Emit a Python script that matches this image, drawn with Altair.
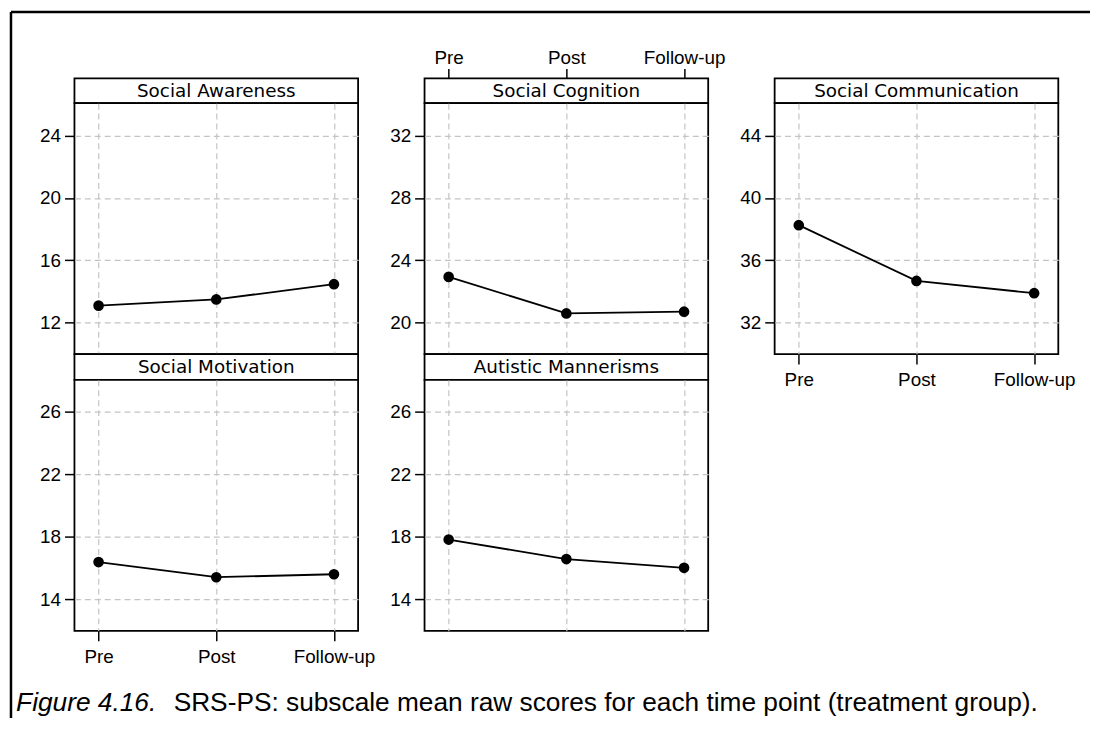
import altair as alt
import pandas as pd

# ---------------- data ----------------
time_points = ["Pre", "Post", "Follow-up"]
panel_titles = ["Social Awareness", "Social Cognition", "Social Communication",
                "Social Motivation", "Autistic Mannerisms"]
social_awareness = [13.07, 13.47, 14.45]
social_cognition = [22.92, 20.57, 20.68]
social_communication = [38.25, 34.66, 33.87]
social_motivation = [16.37, 15.40, 15.59]
autistic_mannerisms = [17.81, 16.56, 16.00]

ticks_awareness = [12, 16, 20, 24]
ticks_cognition = [20, 24, 28, 32]
ticks_communication = [32, 36, 40, 44]
ticks_motivation = [14, 18, 22, 26]
ticks_mannerisms = [14, 18, 22, 26]

domain_awareness = [9.95, 26.1]
domain_cognition = [17.95, 34.1]
domain_communication = [29.95, 46.1]
domain_motivation = [11.97, 28.03]
domain_mannerisms = [11.97, 28.03]

caption_italic = ["Figure 4.16."]
caption_rest = ["SRS-PS: subscale mean raw scores for each time point (treatment group)."]

# ---------------- styling ----------------
W = 286
HDR1 = 25
HDR2 = 26
PH = 253
TICK_FONT = "Liberation Sans"
GRID = dict(grid=True, gridColor="#c4c4c4", gridDash=[6, 4], gridWidth=1.2)

xscale = alt.Scale(type="point", domain=time_points, padding=0.205)


def x_axis(show):
    if show:
        return alt.Axis(title=None, labels=True, ticks=True, tickSize=10,
                        tickColor="black", tickWidth=1.5, domain=False,
                        labelFont=TICK_FONT, labelFontSize=19, labelColor="black",
                        labelAngle=0, labelPadding=7, labelOverlap=False, **GRID)
    return alt.Axis(title=None, labels=False, ticks=False, domain=False, **GRID)


def y_axis(values):
    return alt.Axis(title=None, values=values, tickSize=10, tickColor="black",
                    tickWidth=1.5, domain=False, labelFont=TICK_FONT,
                    labelFontSize=19, labelColor="black", labelPadding=4, **GRID)


def plot(values, ticks, domain, show_x, height):
    df = pd.DataFrame({"time": time_points, "value": values})
    base = alt.Chart(df).encode(
        x=alt.X("time:N", sort=time_points, scale=xscale, axis=x_axis(show_x)),
        y=alt.Y("value:Q", scale=alt.Scale(domain=domain, nice=False, zero=False),
                axis=y_axis(ticks)),
    )
    return alt.layer(
        base.mark_line(color="black", strokeWidth=1.8),
        base.mark_circle(size=115, color="black", opacity=1),
    ).properties(width=W, height=height)


def header(title, height, top_axis=False, extras=None):
    df = pd.DataFrame({"label": [title]})
    layers = []
    if top_axis:
        tdf = pd.DataFrame({"time": time_points})
        layers.append(
            alt.Chart(tdf).mark_point(opacity=0).encode(
                x=alt.X("time:N", sort=time_points, scale=xscale,
                        axis=alt.Axis(orient="top", title=None, domain=False,
                                      grid=False, tickSize=10, tickColor="black",
                                      tickWidth=1.5, labelFont=TICK_FONT,
                                      labelFontSize=19, labelColor="black",
                                      labelAngle=0, labelOverlap=False,
                                      labelPadding=1))
            )
        )
    layers.append(
        alt.Chart(df).mark_text(font="DejaVu Sans", fontSize=18.5, color="black",
                                baseline="middle", align="center").encode(
            x=alt.value(W / 2), y=alt.value(height / 2), text="label:N")
    )
    if extras:
        layers.extend(extras)
    return alt.layer(*layers).properties(width=W, height=height)


# decorations: outer figure frame and caption (drawn relative to first header)
one = pd.DataFrame({"a": [0]})
frame_left = alt.Chart(one).mark_rule(color="black", strokeWidth=2.5).encode(
    x=alt.value(-64), y=alt.value(-67), y2=alt.value(645))
frame_top = alt.Chart(one).mark_rule(color="black", strokeWidth=2.5).encode(
    x=alt.value(-64), x2=alt.value(1024), y=alt.value(-67))
cap1 = alt.Chart(pd.DataFrame({"t": caption_italic})).mark_text(
    font=TICK_FONT, fontSize=26.5, fontStyle="italic", color="black",
    align="right", baseline="alphabetic").encode(
    x=alt.value(82.5), y=alt.value(638), text="t:N")
cap2 = alt.Chart(pd.DataFrame({"t": caption_rest})).mark_text(
    font=TICK_FONT, fontSize=26.5, color="black",
    align="left", baseline="alphabetic").encode(
    x=alt.value(100), y=alt.value(638), text="t:N")

filler = alt.Chart(one).mark_point(opacity=0).encode(
    x=alt.value(0), y=alt.value(0)
).properties(width=W, height=HDR2,
             view=alt.ViewBackground(stroke="transparent", fill="transparent"))

cells = [
    header(panel_titles[0], HDR1, extras=[frame_left, frame_top, cap1, cap2]),
    header(panel_titles[1], HDR1, top_axis=True),
    header(panel_titles[2], HDR1),
    plot(social_awareness, ticks_awareness, domain_awareness, False, PH),
    plot(social_cognition, ticks_cognition, domain_cognition, False, PH),
    plot(social_communication, ticks_communication, domain_communication, True, PH),
    header(panel_titles[3], HDR2),
    header(panel_titles[4], HDR2),
    filler,
    plot(social_motivation, ticks_motivation, domain_motivation, True, PH),
    plot(autistic_mannerisms, ticks_mannerisms, domain_mannerisms, False, PH),
]

chart = alt.concat(
    *cells, columns=3, spacing={"row": 0, "column": 67},
    bounds="flush", align="each",
).properties(
    padding={"left": 0, "top": -2, "right": 0, "bottom": 0},
    background="white",
).configure_view(stroke="black", strokeWidth=1.8, fill="white")

chart.save("out.html", embed_options={"renderer": "svg", "actions": False})
